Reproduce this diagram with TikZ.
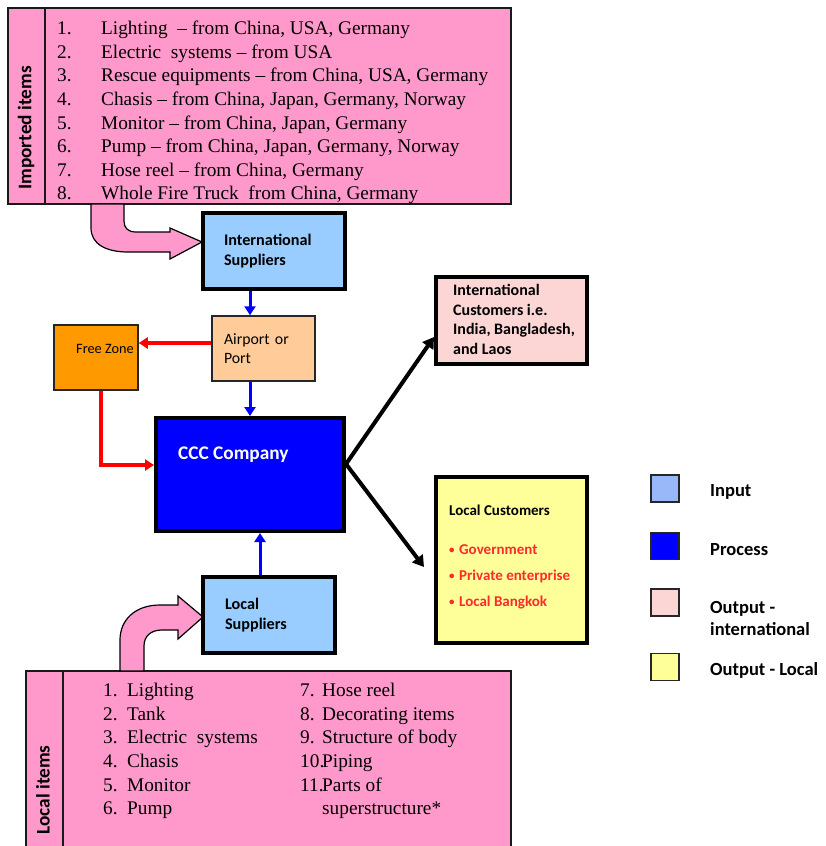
\documentclass[tikz,border=0pt]{standalone}
\usepackage{fontspec}
\setmainfont{Liberation Serif}
\newfontfamily\calib{Carlito}
\usetikzlibrary{arrows.meta}

\definecolor{itempink}{HTML}{FF99CC}
\definecolor{inblue}{HTML}{99CCFF}
\definecolor{peach}{HTML}{FFCC99}
\definecolor{zoneorange}{HTML}{FF9900}
\definecolor{procblue}{HTML}{0000FF}
\definecolor{intlpink}{HTML}{FCD5D5}
\definecolor{localyellow}{HTML}{FFFF99}
\definecolor{keyblue}{HTML}{99B8FA}
\definecolor{bulletred}{HTML}{FF2A2A}

\newcommand{\redbullet}[1]{\textcolor{bulletred}{\raisebox{1.2pt}{\fontsize{11}{12}\selectfont•}\hspace{4.5pt}#1}}

\tikzset{
  heavybox/.style={draw=black, line width=4pt, inner ysep=0pt, align=left},
  lightbox/.style={draw=black!85, line width=1.5pt, inner ysep=0pt, align=left},
  boldlbl/.style={font=\calib\bfseries\fontsize{16.2}{19.5}\selectfont},
  plainlbl/.style={font=\calib\fontsize{15.8}{19.5}\selectfont},
  listtext/.style={font=\fontsize{19.3}{23.6}\selectfont, inner sep=0pt, align=left, anchor=north west},
  sidetitle/.style={font=\calib\bfseries\fontsize{19.3}{22}\selectfont, rotate=90, inner sep=0pt},
  itemband/.style={draw=black!90, line width=1.5pt, fill=itempink},
  bentarrow/.style={draw=black, line width=1.2pt, fill=itempink},
  bluearr/.style={draw=procblue, line width=3pt, -{Triangle[length=9pt,width=11pt]}},
  redarr/.style={draw=red, line width=3.5pt, -{Triangle[length=9pt,width=11pt]}},
  blackarr/.style={draw=black, line width=4pt, -{Triangle[length=11pt,width=13pt]}},
  keysquare/.style={draw=black!85, line width=1.5pt, minimum width=28, minimum height=27, inner sep=0pt},
  keylbl/.style={font=\calib\bfseries\fontsize{18.5}{22}\selectfont, anchor=west, align=left, inner sep=0pt}
}

\begin{document}
\begin{tikzpicture}[x=1pt,y=-1pt]
\useasboundingbox (0,0) rectangle (826,846);
\clip (0,0) rectangle (826,846);

% ---------- imported items panel ----------
\draw[itemband] (8,8) rectangle (45,204);
\draw[itemband] (45,8) rectangle (511,204);
\node[sidetitle] (imptitle) at (26,128) {Imported items};
\node[listtext] (implist) at (57,21) {%
\makebox[44pt][l]{1.}Lighting\ \ – from China, USA, Germany\\
\makebox[44pt][l]{2.}Electric\ \ systems – from USA\\
\makebox[44pt][l]{3.}Rescue equipments – from China, USA, Germany\\
\makebox[44pt][l]{4.}Chasis – from China, Japan, Germany, Norway\\
\makebox[44pt][l]{5.}Monitor – from China, Japan, Germany\\
\makebox[44pt][l]{6.}Pump – from China, Japan, Germany, Norway\\
\makebox[44pt][l]{7.}Hose reel – from China, Germany\\
\makebox[44pt][l]{8.}Whole Fire Truck\ \ from China, Germany};

% bent arrow into the international suppliers
\draw[bentarrow] (91,204) -- (91,228)
  .. controls (91,244) and (106,252) .. (128,252)
  -- (170,252) -- (170,259) -- (202,242) -- (170,228) -- (170,232)
  -- (136,232) .. controls (128,232) and (124,228) .. (124,221)
  -- (124,204) -- cycle;

% ---------- local items panel ----------
\draw[itemband] (26,671) rectangle (63,860);
\draw[itemband] (63,671) rectangle (511,860);
\node[sidetitle] (loctitle) at (43,790) {Local items};
\node[listtext] (loclist1) at (103,683) {%
\makebox[24pt][l]{1.}Lighting\\
\makebox[24pt][l]{2.}Tank\\
\makebox[24pt][l]{3.}Electric\ \ systems\\
\makebox[24pt][l]{4.}Chasis\\
\makebox[24pt][l]{5.}Monitor\\
\makebox[24pt][l]{6.}Pump};
\node[listtext] (loclist2) at (300,683) {%
\makebox[22pt][l]{7.}Hose reel\\
\makebox[22pt][l]{8.}Decorating items\\
\makebox[22pt][l]{9.}Structure of body\\
\makebox[22pt][l]{10.}Piping\\
\makebox[22pt][l]{11.}Parts of\\
\makebox[22pt][l]{}superstructure*};

% bent arrow into the local suppliers
\draw[bentarrow] (120,671) -- (120,640)
  .. controls (120,620) and (135,605) .. (160,605)
  -- (178,605) -- (178,596) -- (203,617) -- (178,639) -- (178,630)
  -- (162,630) .. controls (151,630) and (144,636) .. (144,646)
  -- (144,671) -- cycle;

% ---------- flow boxes ----------
\node[heavybox, fill=inblue, boldlbl, minimum width=142, minimum height=76,
      inner xsep=21, text width=100] (IS) at (274,251) {International\\Suppliers};
\node[lightbox, fill=peach, plainlbl, minimum width=103, minimum height=65,
      inner xsep=12, text width=79] (AP) at (263.5,348.5) {Airport or\\Port};
\node[lightbox, fill=zoneorange, minimum width=84, minimum height=65] (FZ) at (96,357.5) {};
\node[font=\calib\fontsize{14.3}{16}\selectfont, anchor=west, inner sep=0pt] (FZtext) at (76,349) {Free Zone};
\node[heavybox, fill=procblue, minimum width=188, minimum height=113] (CCC) at (250,474.5) {};
\node[font=\calib\bfseries\fontsize{19.3}{22}\selectfont, text=white, anchor=west, inner sep=0pt] (CCCtext) at (178,455) {CCC Company};
\node[heavybox, fill=intlpink, minimum width=151, minimum height=87] (IC) at (511.5,320.5) {};
\node[font=\calib\bfseries\fontsize{16}{19.7}\selectfont, anchor=west, align=left, inner sep=0pt] (ICtext) at (453,319.5)
      {International\\Customers i.e.\\India, Bangladesh,\\and Laos};
\node[heavybox, fill=localyellow, minimum width=151, minimum height=166] (LC) at (511.5,560) {};
\node[font=\calib\bfseries\fontsize{15}{17}\selectfont, anchor=west, align=left, inner sep=0pt] (LCtext) at (449,557)
  {Local Customers\\[22pt]
   \redbullet{Government}\\[9.5pt]
   \redbullet{Private enterprise}\\[9pt]
   \redbullet{Local Bangkok}};
\node[heavybox, fill=inblue, boldlbl, minimum width=132, minimum height=76,
      inner xsep=22, text width=88] (LS) at (269,615) {Local\\Suppliers};

% ---------- connectors ----------
\coordinate (col250) at (250,0);
\coordinate (col260) at (260,0);
\coordinate (col101) at (101,0);
\draw[bluearr] (IS.south -| col250) -- (AP.north -| col250);
\draw[bluearr] (AP.south -| col250) -- (CCC.north -| col250);
\draw[bluearr] (LS.north -| col260) -- (CCC.south -| col260);
\coordinate (apw) at ([yshift=5.5pt]AP.west);
\draw[redarr] (apw) -- (apw -| FZ.east);
\coordinate (cccw) at ([yshift=9.5pt]CCC.west);
\draw[redarr] (FZ.south -| col101) |- (cccw);
\coordinate (ccce) at ([yshift=10.5pt]CCC.east);
\draw[blackarr] (ccce) -- ([yshift=-16.5pt]IC.west);
\draw[blackarr] (ccce) -- ([xshift=-10pt,yshift=-7pt]LC.west);

% ---------- key ----------
\node[keysquare, fill=keyblue] (kin) at (665,488.5) {};
\node[keysquare, fill=procblue] (kproc) at (665,546) {};
\node[keysquare, fill=intlpink] (kintl) at (665,602.5) {};
\node[keysquare, fill=localyellow] (kloc) at (665,667) {};
\node[keylbl] (kinlbl) at (710,492) {Input};
\node[keylbl] (kproclbl) at (710,550) {Process};
\node[keylbl] (kintllbl) at (710,618) {Output -\\international};
\node[keylbl] (kloclbl) at (710,670) {Output - Local};
\end{tikzpicture}
\end{document}
